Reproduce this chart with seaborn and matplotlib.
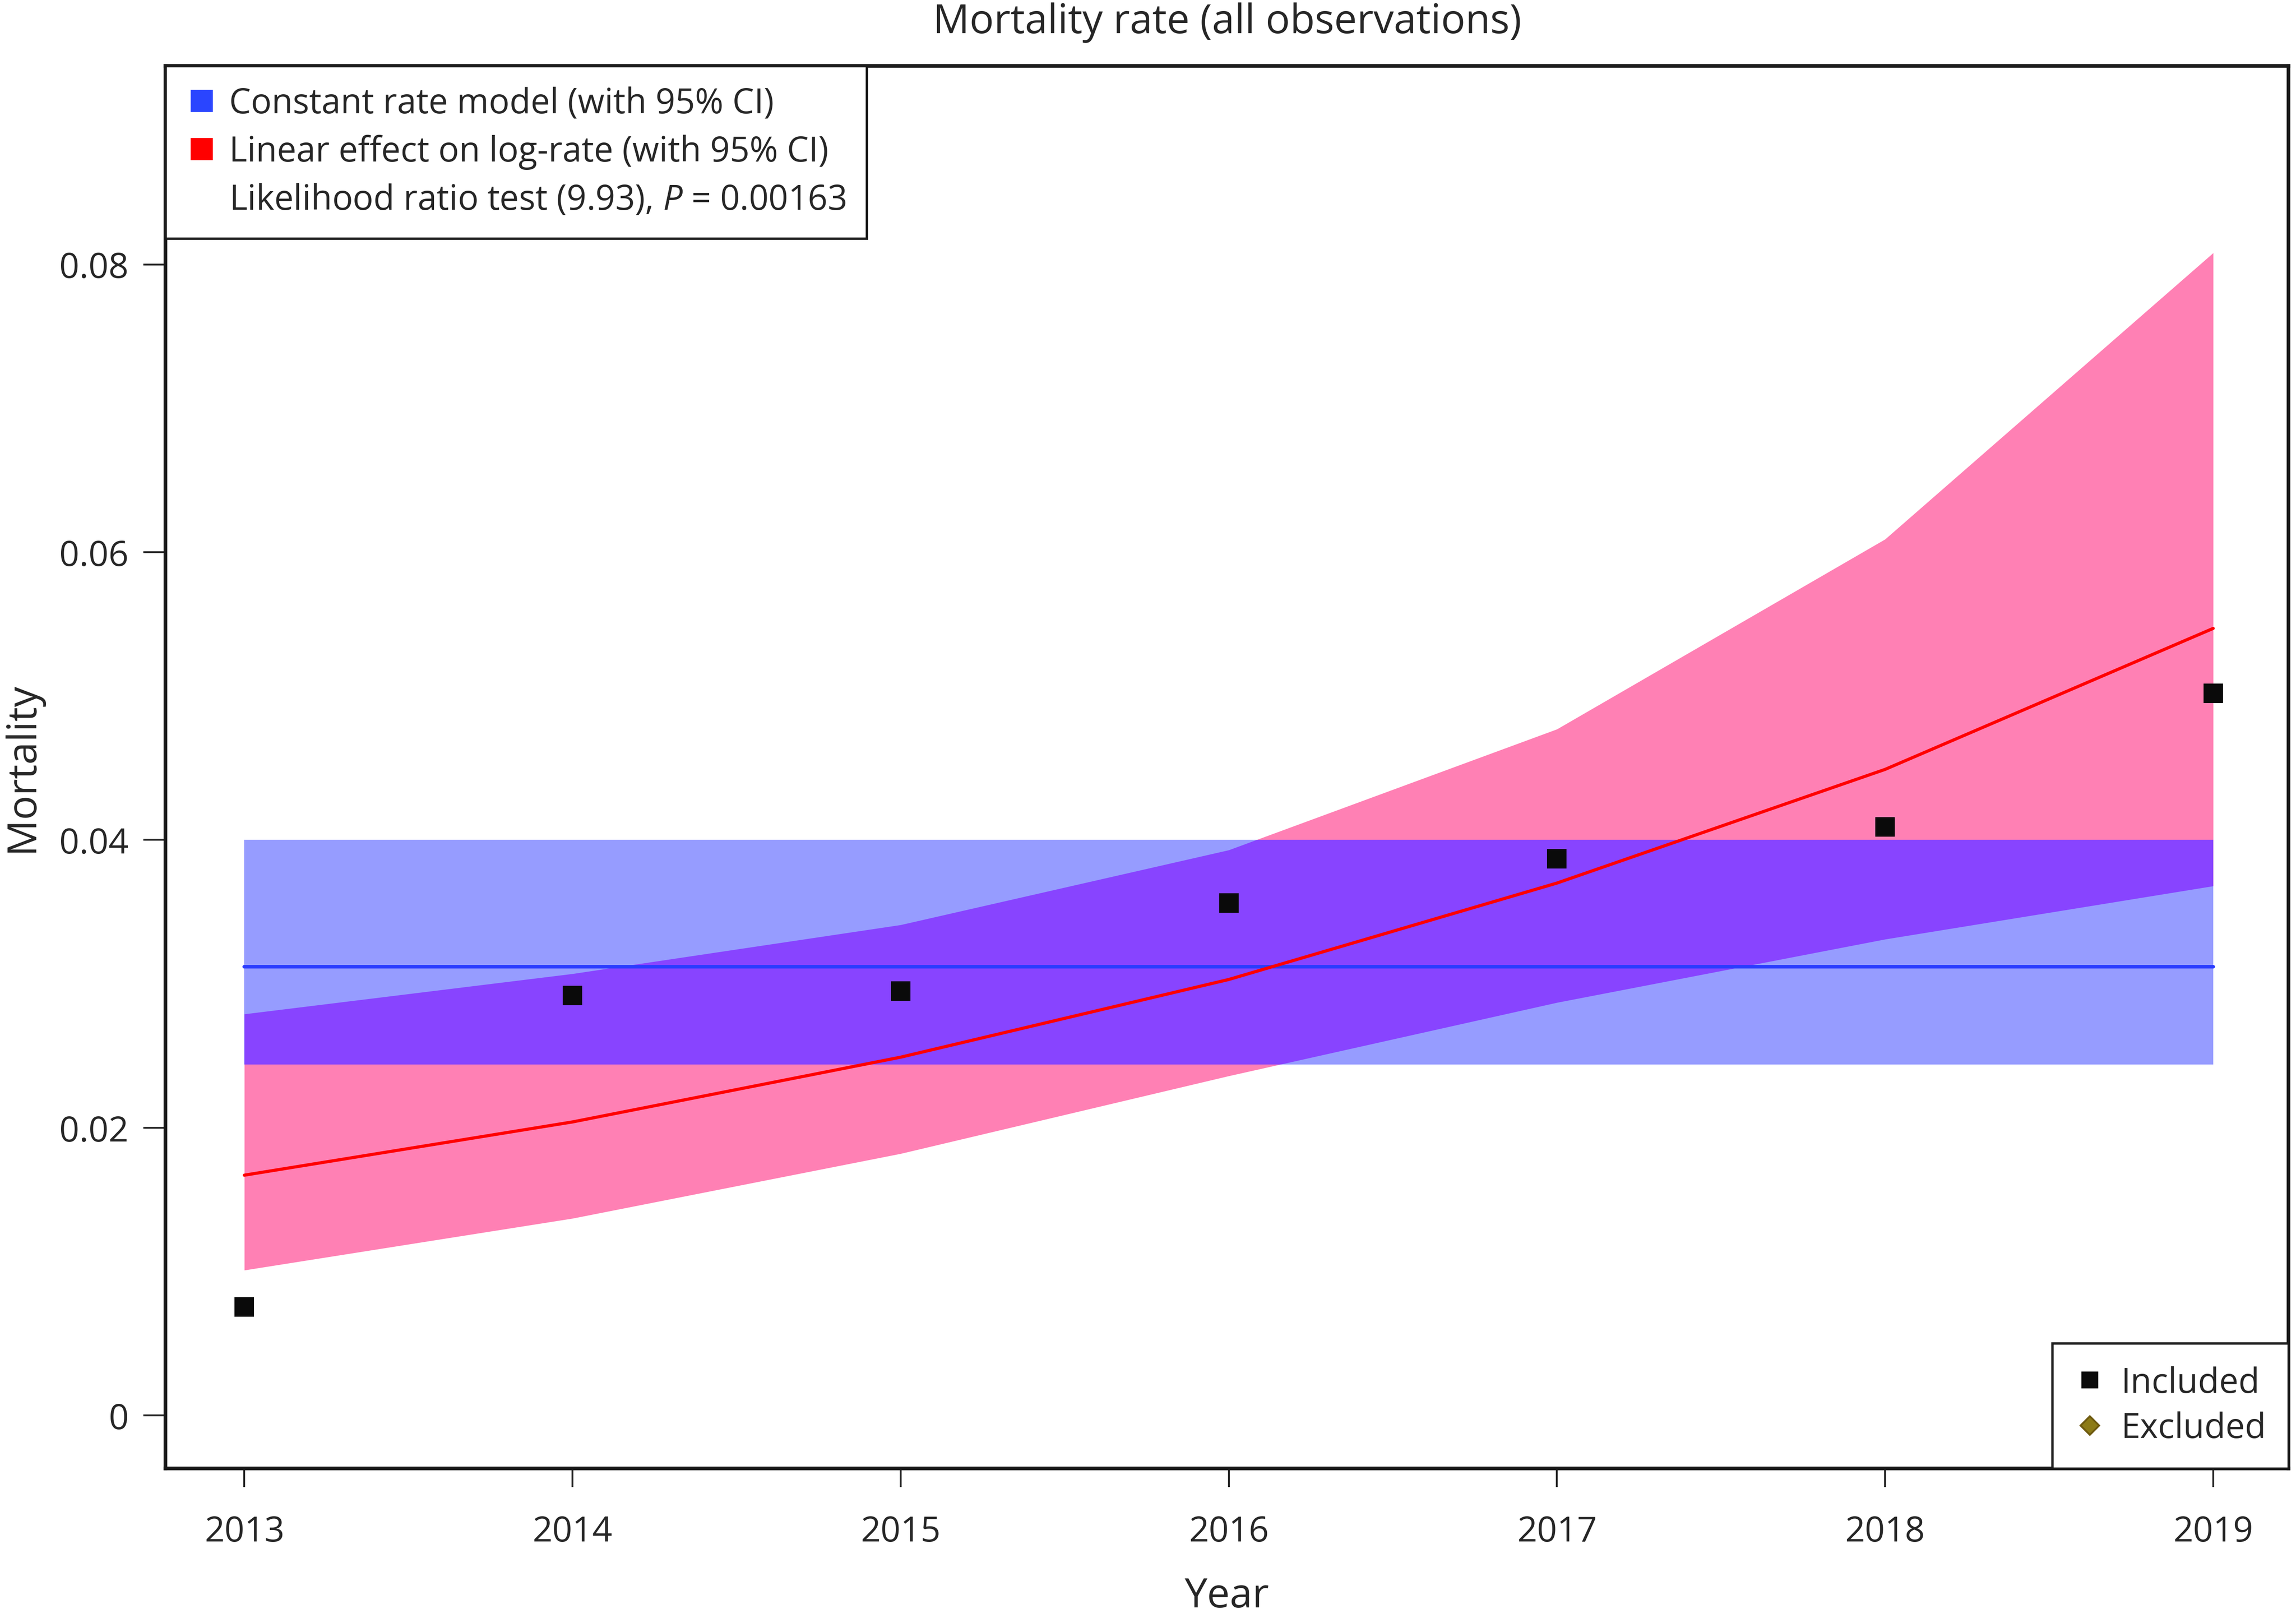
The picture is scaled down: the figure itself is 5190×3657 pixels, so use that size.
import numpy as np
import pandas as pd
import seaborn as sns
import matplotlib.pyplot as plt
from matplotlib.lines import Line2D
from matplotlib.patches import Polygon

# Data
years = [2013, 2014, 2015, 2016, 2017, 2018, 2019]
observed = [0.00755, 0.0292, 0.0295, 0.0356, 0.0387, 0.0409, 0.0502]
linear_fit = [0.0167, 0.0204, 0.0249, 0.0303, 0.0370, 0.0449, 0.0547]
linear_lo = [0.0101, 0.0137, 0.0182, 0.0236, 0.0287, 0.0331, 0.0368]
linear_hi = [0.0279, 0.0307, 0.0341, 0.0393, 0.0477, 0.0609, 0.0808]
const_rate = 0.0312
const_lo = 0.0244
const_hi = 0.0400
y_ticks = [0, 0.02, 0.04, 0.06, 0.08]
y_tick_labels = ["0", "0.02", "0.04", "0.06", "0.08"]

df = pd.DataFrame({
    "year": years,
    "observed": observed,
    "fit": linear_fit,
    "lo": linear_lo,
    "hi": linear_hi,
    "const": [const_rate] * len(years),
})

sns.set_style("ticks")
plt.rcParams["font.family"] = ["Open Sans", "DejaVu Sans"]
plt.rcParams["mathtext.fontset"] = "custom"
plt.rcParams["mathtext.it"] = "Open Sans:italic"
plt.rcParams["mathtext.rm"] = "Open Sans"

fig = plt.figure(figsize=(17.3, 12.193), dpi=300)
ax = fig.add_axes([0.0721, 0.0925, 0.9247, 0.8666])

# bands: pink (linear), light blue (constant), purple where they overlap
ax.fill_between(df["year"], df["lo"], df["hi"], color="#ff80b4", linewidth=0, zorder=1)
ax.fill_between(df["year"], const_lo, const_hi, color="#969cff", linewidth=0, zorder=2)
overlap = ax.fill_between(df["year"], df["lo"], df["hi"], color="#8844ff", linewidth=0, zorder=3)
clip = Polygon([[years[0], const_lo], [years[-1], const_lo],
                [years[-1], const_hi], [years[0], const_hi]],
               closed=True, transform=ax.transData)
overlap.set_clip_path(clip)

sns.lineplot(data=df, x="year", y="const", color="#2a3cff", linewidth=1.9,
             errorbar=None, ax=ax, zorder=4)
sns.lineplot(data=df, x="year", y="fit", color="#ff0000", linewidth=1.7,
             errorbar=None, ax=ax, zorder=5)
sns.scatterplot(data=df, x="year", y="observed", marker="s", color="#0a0a0a",
                s=110, linewidth=0, ax=ax, zorder=6)

ax.set_xlim(2012.76, 2019.23)
ax.set_ylim(-0.00367, 0.0938)
ax.set_xticks(years)
ax.set_xticklabels([str(y) for y in years])
ax.set_yticks(y_ticks)
ax.set_yticklabels(y_tick_labels)
ax.tick_params(axis="x", length=10, width=1.0, pad=15, labelsize=19, direction="out")
ax.tick_params(axis="y", length=12, width=1.0, pad=8, labelsize=19, direction="out")
for sp in ax.spines.values():
    sp.set_visible(True)
    sp.set_linewidth(2.0)
    sp.set_color("#1a1a1a")

ax.set_title("Mortality rate (all observations)", fontsize=22, pad=18)
ax.set_xlabel("Year", fontsize=22)
ax.set_ylabel("Mortality", fontsize=22)
ax.xaxis.set_label_coords(0.5, -0.077)
ax.yaxis.set_label_coords(-0.058, 0.5)

# legend for models
h1 = [
    Line2D([], [], marker="s", linestyle="none", color="#2a45ff", markersize=11),
    Line2D([], [], marker="s", linestyle="none", color="#ff0000", markersize=11),
    Line2D([], [], linestyle="none"),
]
l1 = ["Constant rate model (with 95% CI)",
      "Linear effect on log-rate (with 95% CI)",
      "Likelihood ratio test (9.93), $\\mathit{P}$ = 0.00163"]
leg1 = ax.legend(h1, l1, loc="upper left", bbox_to_anchor=(0, 1), borderaxespad=0,
                 fontsize=18.7, frameon=True, fancybox=False, edgecolor="#1a1a1a",
                 framealpha=1, handlelength=0.9, handletextpad=0.35,
                 labelspacing=0.38, borderpad=0.6)
leg1.get_frame().set_linewidth(1.3)
leg1.set_zorder(10)
ax.add_artist(leg1)

# legend for observations
h2 = [
    Line2D([], [], marker="s", linestyle="none", color="#0a0a0a", markersize=8),
    Line2D([], [], marker="D", linestyle="none", color="#8c7b17",
           markeredgecolor="#6e5a10", markersize=7),
]
leg2 = ax.legend(h2, ["Included", "Excluded"], loc="lower right",
                 bbox_to_anchor=(1, 0), borderaxespad=0, fontsize=18.7,
                 frameon=True, fancybox=False, edgecolor="#1a1a1a", framealpha=1,
                 handlelength=0.9, handletextpad=0.45, labelspacing=0.3,
                 borderpad=0.65)
leg2.get_frame().set_linewidth(1.3)
leg2.set_zorder(10)

fig.savefig("out.png", dpi=300)
